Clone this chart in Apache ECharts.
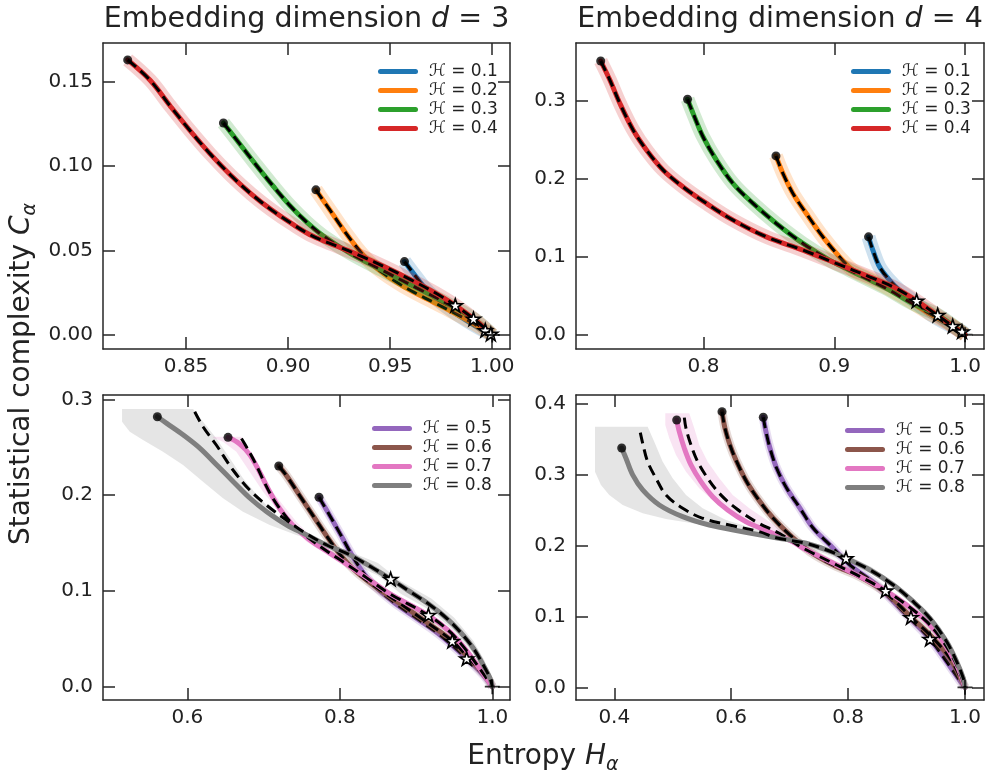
<!DOCTYPE html>
<html>
<head>
<meta charset="utf-8">
<script src="https://cdn.jsdelivr.net/npm/echarts@6/dist/echarts.min.js"></script>
<style>
  html, body { margin: 0; padding: 0; background: #fff; }
  #chart { width: 988px; height: 776px; }
</style>
</head>
<body>
<div id="chart"></div>
<script>
// ---- data ----
// top row: H = 0.1 .. 0.4, bottom row: H = 0.5 .. 0.8
var hLow = ['ℋ = 0.1', 'ℋ = 0.2', 'ℋ = 0.3', 'ℋ = 0.4'];
var hHigh = ['ℋ = 0.5', 'ℋ = 0.6', 'ℋ = 0.7', 'ℋ = 0.8'];

// d = 3, H 0.1-0.4
var d3h01 = [[0.9570,0.0435],[0.9614,0.0365],[0.9663,0.0289],[0.9712,0.0228],[0.9794,0.0150],[0.9876,0.0084],[0.9950,0.0031],[1.0,0.0]];
var d3h02 = [[0.9136,0.0860],[0.9206,0.0738],[0.9271,0.0624],[0.9337,0.0518],[0.9402,0.0430],[0.9467,0.0365],[0.9550,0.0299],[0.9631,0.0244],[0.9712,0.0194],[0.9800,0.0139],[0.9900,0.0074],[1.0,0.0]];
var d3h03 = [[0.8683,0.1256],[0.8765,0.1129],[0.8846,0.1003],[0.8928,0.0880],[0.9010,0.0765],[0.9092,0.0667],[0.9173,0.0586],[0.9304,0.0484],[0.9467,0.0380],[0.9631,0.0278],[0.9780,0.0186],[0.9908,0.0096],[1.0,0.0]];
var d3h04 = [[0.8214,0.1630],[0.8324,0.1509],[0.8422,0.1357],[0.8520,0.1210],[0.8618,0.1073],[0.8720,0.0945],[0.8820,0.0835],[0.8920,0.0740],[0.9020,0.0658],[0.9120,0.0586],[0.9240,0.0526],[0.9360,0.0466],[0.9480,0.0400],[0.9600,0.0328],[0.9720,0.0250],[0.9819,0.0176],[0.9920,0.0085],[1.0,0.0]];
var d3lowStars = [[0.9819,0.0176],[0.9908,0.0096],[0.9966,0.0028],[0.9993,0.0006]];

// d = 4, H 0.1-0.4
var d4h01 = [[0.9262,0.1256],[0.9295,0.1086],[0.9346,0.0872],[0.9422,0.0701],[0.9498,0.0573],[0.9600,0.0445],[0.9727,0.0274],[0.9855,0.0146],[0.9977,0.0040],[1.0,0.0]];
var d4h02 = [[0.8554,0.2295],[0.8608,0.2069],[0.8684,0.1813],[0.8786,0.1556],[0.8913,0.1256],[0.9040,0.1000],[0.9142,0.0829],[0.9295,0.0701],[0.9524,0.0487],[0.9700,0.0300],[0.9906,0.0112],[1.0,0.0]];
var d4h03 = [[0.7878,0.3022],[0.7921,0.2838],[0.7997,0.2538],[0.8099,0.2240],[0.8226,0.1941],[0.8379,0.1685],[0.8557,0.1428],[0.8760,0.1172],[0.8964,0.0958],[0.9117,0.0829],[0.9397,0.0595],[0.9600,0.0400],[0.9791,0.0253],[1.0,0.0]];
var d4h04 = [[0.7214,0.3513],[0.7285,0.3265],[0.7361,0.2967],[0.7463,0.2624],[0.7565,0.2368],[0.7692,0.2112],[0.7844,0.1897],[0.8023,0.1685],[0.8226,0.1471],[0.8481,0.1256],[0.8760,0.1086],[0.9015,0.0915],[0.9269,0.0744],[0.9473,0.0595],[0.9630,0.0436],[0.9804,0.0231],[1.0,0.0]];
var d4lowStars = [[0.9630,0.0436],[0.9791,0.0253],[0.9906,0.0112],[0.9977,0.0040]];

// d = 3, H 0.5-0.8
var d3h05 = [[0.7727,0.1977],[0.7871,0.1783],[0.8003,0.1598],[0.8134,0.1408],[0.8265,0.1238],[0.8440,0.1063],[0.8702,0.0885],[0.9009,0.0713],[0.9314,0.0539],[0.9664,0.0294],[0.9882,0.0122],[1.0,0.0]];
var d3h06 = [[0.7199,0.2304],[0.7304,0.2199],[0.7478,0.1990],[0.7653,0.1780],[0.7828,0.1572],[0.8003,0.1380],[0.8222,0.1195],[0.8484,0.1035],[0.8790,0.0868],[0.9140,0.0672],[0.9475,0.0477],[0.9708,0.0285],[0.9927,0.0100],[1.0,0.0]];
var d3h07 = [[0.6534,0.2603],[0.6687,0.2534],[0.6818,0.2423],[0.6949,0.2240],[0.7081,0.2035],[0.7212,0.1858],[0.7386,0.1684],[0.7605,0.1531],[0.7867,0.1395],[0.8046,0.1302],[0.8353,0.1136],[0.8659,0.0968],[0.9162,0.0745],[0.9445,0.0572],[0.9664,0.0375],[0.9882,0.0135],[1.0,0.0]];
var d3h08 = [[0.5607,0.2818],[0.5730,0.2749],[0.5948,0.2627],[0.6167,0.2488],[0.6386,0.2314],[0.6603,0.2140],[0.6822,0.1967],[0.7041,0.1827],[0.7304,0.1688],[0.7566,0.1584],[0.7828,0.1479],[0.8134,0.1375],[0.8440,0.1236],[0.8667,0.1124],[0.8921,0.0992],[0.9183,0.0853],[0.9402,0.0714],[0.9576,0.0574],[0.9751,0.0401],[0.9882,0.0226],[0.9970,0.0088],[1.0,0.0]];
// upper parts of the dashed (theory) curves where they leave the measured ones
var d3t07 = [[0.6710,0.2590],[0.6800,0.2470],[0.6900,0.2320],[0.7000,0.2150],[0.7120,0.1970],[0.7250,0.1820],[0.7400,0.1680],[0.7605,0.1545]];
var d3t08 = [[0.6097,0.2870],[0.6206,0.2714],[0.6380,0.2523],[0.6599,0.2262],[0.6818,0.2053],[0.7036,0.1897],[0.7298,0.1740],[0.7566,0.1595]];
var d3highStars = [[0.8667,0.1124],[0.9162,0.0747],[0.9475,0.0477],[0.9664,0.0294]];
var d3band07 = [[0.6337,0.2610],[0.6708,0.2610],[0.6818,0.2453],[0.6949,0.2244],[0.7081,0.2071],[0.7255,0.1897],[0.7430,0.1722],[0.7600,0.1590],[0.7867,0.1430],[0.8353,0.1170],[0.8659,0.1000],[0.9162,0.0776],[0.9445,0.0603],[0.9664,0.0405],[0.9882,0.0158],[1.0,0.0],
  [0.9882,0.0112],[0.9664,0.0345],[0.9445,0.0541],[0.9162,0.0714],[0.8659,0.0935],[0.8353,0.1102],[0.7867,0.1360],[0.7550,0.1520],[0.7386,0.1670],[0.7167,0.1862],[0.6993,0.2035],[0.6818,0.2244],[0.6643,0.2453],[0.6468,0.2557],[0.6337,0.2600]];
var d3band08 = [[0.5144,0.2899],[0.6075,0.2899],[0.6206,0.2766],[0.6380,0.2593],[0.6556,0.2384],[0.6730,0.2175],[0.6949,0.1967],[0.7212,0.1758],[0.7517,0.1584],[0.7867,0.1460],[0.8100,0.1420],[0.8500,0.1290],[0.8800,0.1100],[0.9200,0.0920],[0.9500,0.0720],[0.9750,0.0480],[0.9900,0.0270],[1.0,0.0],
  [0.9900,0.0150],[0.9750,0.0350],[0.9500,0.0580],[0.9200,0.0790],[0.8800,0.0970],[0.8500,0.1160],[0.8100,0.1310],[0.7780,0.1497],[0.7430,0.1584],[0.7081,0.1688],[0.6730,0.1827],[0.6468,0.1967],[0.6206,0.2140],[0.5944,0.2314],[0.5681,0.2453],[0.5419,0.2575],[0.5245,0.2662],[0.5144,0.2766]];

// d = 4, H 0.5-0.8
var d4h05 = [[0.6549,0.3814],[0.6595,0.3610],[0.6664,0.3376],[0.6778,0.3093],[0.6950,0.2811],[0.7178,0.2528],[0.7405,0.2246],[0.7691,0.2010],[0.8033,0.1727],[0.8489,0.1445],[0.8945,0.1068],[0.9401,0.0682],[0.9687,0.0362],[0.9890,0.0120],[1.0,0.0]];
var d4h06 = [[0.5843,0.3893],[0.5894,0.3658],[0.5979,0.3422],[0.6094,0.3186],[0.6265,0.2904],[0.6493,0.2621],[0.6720,0.2387],[0.7006,0.2151],[0.7348,0.1915],[0.7747,0.1727],[0.8203,0.1562],[0.8660,0.1328],[0.9076,0.0989],[0.9401,0.0739],[0.9743,0.0410],[1.0,0.0]];
var d4h07 = [[0.5068,0.3775],[0.5112,0.3610],[0.5198,0.3376],[0.5312,0.3140],[0.5483,0.2904],[0.5683,0.2692],[0.5940,0.2504],[0.6253,0.2339],[0.6652,0.2198],[0.7052,0.2056],[0.7234,0.1963],[0.7805,0.1727],[0.8260,0.1540],[0.8643,0.1365],[0.9003,0.1162],[0.9345,0.0927],[0.9629,0.0644],[0.9858,0.0315],[1.0,0.0]];
var d4h08 = [[0.4127,0.3380],[0.4200,0.3234],[0.4315,0.2999],[0.4486,0.2787],[0.4770,0.2575],[0.5170,0.2410],[0.5625,0.2292],[0.6197,0.2198],[0.6766,0.2113],[0.7280,0.2034],[0.7634,0.1939],[0.7964,0.1822],[0.8375,0.1657],[0.8774,0.1445],[0.9116,0.1209],[0.9401,0.0975],[0.9687,0.0644],[0.9858,0.0362],[0.9971,0.0127],[1.0,0.0]];
var d4t07 = [[0.5198,0.3808],[0.5227,0.3658],[0.5312,0.3422],[0.5427,0.3186],[0.5598,0.2952],[0.5796,0.2740],[0.6082,0.2528],[0.6424,0.2339],[0.6823,0.2175]];
var d4t08 = [[0.4445,0.3596],[0.4486,0.3446],[0.4571,0.3186],[0.4713,0.2952],[0.4885,0.2716],[0.5170,0.2528],[0.5512,0.2387],[0.5967,0.2292],[0.6481,0.2198]];
var d4highStars = [[0.7964,0.1822],[0.8643,0.1365],[0.9076,0.0989],[0.9401,0.0682]];
var d4band07 = [[0.4873,0.3870],[0.5283,0.3870],[0.5369,0.3658],[0.5454,0.3422],[0.5598,0.3186],[0.5796,0.2952],[0.6026,0.2716],[0.6310,0.2528],[0.6652,0.2339],[0.7052,0.2100],[0.7805,0.1760],[0.8643,0.1400],[0.9345,0.0960],[0.9629,0.0675],[0.9858,0.0345],[1.0,0.0],
  [0.9858,0.0285],[0.9629,0.0613],[0.9345,0.0895],[0.8643,0.1330],[0.7805,0.1695],[0.7052,0.2015],[0.6481,0.2268],[0.6082,0.2410],[0.5740,0.2599],[0.5454,0.2811],[0.5227,0.3045],[0.5056,0.3281],[0.4941,0.3517],[0.4873,0.3705]];
var d4band08 = [[0.3670,0.3680],[0.4571,0.3680],[0.4684,0.3469],[0.4828,0.3186],[0.4999,0.2952],[0.5227,0.2716],[0.5512,0.2528],[0.5911,0.2363],[0.6368,0.2246],[0.6881,0.2151],[0.7200,0.2080],[0.7600,0.1990],[0.8000,0.1860],[0.8400,0.1700],[0.8800,0.1480],[0.9100,0.1270],[0.9400,0.1010],[0.9650,0.0720],[0.9850,0.0400],[1.0,0.0],
  [0.9850,0.0320],[0.9650,0.0620],[0.9400,0.0910],[0.9100,0.1170],[0.8800,0.1390],[0.8400,0.1600],[0.8000,0.1760],[0.7600,0.1890],[0.7200,0.1990],[0.6481,0.2175],[0.5911,0.2246],[0.5341,0.2316],[0.4885,0.2377],[0.4486,0.2458],[0.4144,0.2575],[0.3914,0.2716],[0.3772,0.2857],[0.3670,0.3045]];

// axis ranges and ticks
var xRange = [[0.8093, 1.0087], [0.7025, 1.0145], [0.4894, 1.0232], [0.3345, 1.0325]];
var yRange = [[-0.0083, 0.1730], [-0.0183, 0.3744], [-0.0139, 0.3045], [-0.0179, 0.4128]];
var xTicks = [[0.85, 0.90, 0.95, 1.00], [0.8, 0.9, 1.0], [0.6, 0.8, 1.0], [0.4, 0.6, 0.8, 1.0]];
var yTicks = [[0.00, 0.05, 0.10, 0.15], [0.0, 0.1, 0.2, 0.3], [0.0, 0.1, 0.2, 0.3], [0.0, 0.1, 0.2, 0.3, 0.4]];
var decimals = [2, 1, 1, 1];

var lowColors = ['#1f77b4', '#ff7f0e', '#2ca02c', '#d62728'];
var highColors = ['#9467bd', '#8c564b', '#e377c2', '#7f7f7f'];

var FONT = 'DejaVu Sans';
var INK = '#262626';
var STAR = 'path://M50,0 L61.8,35.4 L99,35.4 L69,57.3 L80.4,92.7 L50,70.8 L19.6,92.7 L31,57.3 L1,35.4 L38.2,35.4 Z';
var PLUS = 'path://M0,50 L100,50 M50,0 L50,100';

var grids = [
    { left: 103, top: 43, width: 407, height: 306 },
    { left: 576, top: 43, width: 408, height: 306 },
    { left: 103, top: 395, width: 407, height: 305 },
    { left: 576, top: 395, width: 408, height: 305 }
];

var xAxes = [], yAxes = [];
grids.forEach(function (g, i) {
    ['bottom', 'top'].forEach(function (pos) {
        xAxes.push({
            type: 'value', gridIndex: i, position: pos,
            min: xRange[i][0], max: xRange[i][1],
            splitLine: { show: false },
            axisLine: { show: true, onZero: false, lineStyle: { color: INK, width: 1.5 } },
            axisTick: { show: true, inside: true, length: 12, customValues: xTicks[i], lineStyle: { color: INK, width: 1.5 } },
            axisLabel: {
                show: pos == 'bottom', customValues: xTicks[i], margin: 8,
                fontFamily: FONT, fontSize: 20, color: '#222',
                formatter: function (v) { return v.toFixed(decimals[i]); }
            }
        });
    });
    ['left', 'right'].forEach(function (pos) {
        yAxes.push({
            type: 'value', gridIndex: i, position: pos,
            min: yRange[i][0], max: yRange[i][1],
            splitLine: { show: false },
            axisLine: { show: true, onZero: false, lineStyle: { color: INK, width: 1.5 } },
            axisTick: { show: true, inside: true, length: 12, customValues: yTicks[i], lineStyle: { color: INK, width: 1.5 } },
            axisLabel: {
                show: pos == 'left', customValues: yTicks[i], margin: 10,
                fontFamily: FONT, fontSize: 20, color: '#222',
                formatter: function (v) { return v.toFixed(decimals[i]); }
            }
        });
    });
});

var series = [];

var lineBase = function (gi, name, data) {
    return {
        type: 'line', name: name, data: data,
        xAxisIndex: gi * 2, yAxisIndex: gi * 2,
        showSymbol: false, symbol: 'none', smooth: 0.35,
        silent: true
    };
};
// light thick band drawn as a wide translucent line
var addBandLine = function (gi, data, color, width) {
    var s = lineBase(gi, 'band', data);
    s.lineStyle = { color: color, width: width, opacity: 0.22, cap: 'butt' };
    series.push(s);
};
var addPolyBand = function (gi, pts, color) {
    series.push({
        type: 'custom', name: 'band', xAxisIndex: gi * 2, yAxisIndex: gi * 2,
        data: [pts[0]], silent: true,
        renderItem: function (params, api) {
            var p = pts.map(function (v) { return api.coord(v); });
            return { type: 'polygon', shape: { points: p }, style: { fill: color, opacity: 0.2 } };
        }
    });
};
var addSolid = function (gi, name, data, color) {
    var s = lineBase(gi, name, data);
    s.lineStyle = { color: color, width: 5, cap: 'round' };
    s.itemStyle = { color: color };
    series.push(s);
};
var addDashed = function (gi, data) {
    var s = lineBase(gi, 'theory', data);
    s.lineStyle = { color: '#000', width: 3, type: [11, 6] };
    series.push(s);
};
var addMarkers = function (gi, curves, stars) {
    series.push({
        type: 'scatter', name: 'start', xAxisIndex: gi * 2, yAxisIndex: gi * 2, z: 10, silent: true,
        symbol: 'circle', symbolSize: 9, itemStyle: { color: '#000' },
        data: curves.map(function (c) { return c[0]; })
    });
    series.push({
        type: 'scatter', name: 'star', xAxisIndex: gi * 2, yAxisIndex: gi * 2, z: 11, silent: true,
        symbol: STAR, symbolSize: 14, symbolKeepAspect: true,
        itemStyle: { color: '#fff', borderColor: '#000', borderWidth: 1.6, opacity: 1 },
        data: stars
    });
    series.push({
        type: 'scatter', name: 'end', xAxisIndex: gi * 2, yAxisIndex: gi * 2, z: 12, silent: true,
        symbol: PLUS, symbolSize: 15,
        itemStyle: { color: 'none', borderColor: '#000', borderWidth: 1.8 },
        data: [[1.0, 0.0]]
    });
};
// tail of a measured curve from a given x on, used to finish the theory curves
var tailFrom = function (data, x0) {
    return data.filter(function (p) { return p[0] >= x0; });
};

// top row
[[d3h01, d3h02, d3h03, d3h04], [d4h01, d4h02, d4h03, d4h04]].forEach(function (curves, gi) {
    curves.forEach(function (c, k) {
        addBandLine(gi, c, lowColors[k], 14);
        addSolid(gi, hLow[k], c, lowColors[k]);
        addDashed(gi, c);
    });
    addMarkers(gi, curves, gi == 0 ? d3lowStars : d4lowStars);
});

// bottom row
addPolyBand(2, d3band08, highColors[3]);
addPolyBand(2, d3band07, highColors[2]);
addPolyBand(3, d4band08, highColors[3]);
addPolyBand(3, d4band07, highColors[2]);
var highSets = [
    { gi: 2, curves: [d3h05, d3h06, d3h07, d3h08], theory: [null, null, d3t07.concat(tailFrom(d3h07, 0.78)), d3t08.concat(tailFrom(d3h08, 0.78))], stars: d3highStars },
    { gi: 3, curves: [d4h05, d4h06, d4h07, d4h08], theory: [null, null, d4t07.concat(tailFrom(d4h07, 0.70)), d4t08.concat(tailFrom(d4h08, 0.67))], stars: d4highStars }
];
highSets.forEach(function (set) {
    set.curves.forEach(function (c, k) {
        if (k < 2) addBandLine(set.gi, c, highColors[k], 9);
        addSolid(set.gi, hHigh[k], c, highColors[k]);
        addDashed(set.gi, set.theory[k] || c);
    });
    addMarkers(set.gi, set.curves, set.stars);
});

var legendAt = function (left, top, names) {
    return {
        orient: 'vertical', left: left, top: top, selectedMode: false,
        itemWidth: 40, itemHeight: 5, itemGap: 2,
        icon: 'path://M2.5,0 H37.5 A2.5,2.5 0 0 1 37.5,5 H2.5 A2.5,2.5 0 0 1 2.5,0 Z',
        textStyle: { fontFamily: FONT, fontSize: 17, color: '#222', lineHeight: 17, padding: [0, 0, 0, 6] },
        data: names
    };
};

var chart = echarts.init(document.getElementById('chart'), null, { renderer: 'canvas' });
chart.setOption({
    animation: false,
    backgroundColor: '#fff',
    grid: grids,
    xAxis: xAxes,
    yAxis: yAxes,
    legend: [
        legendAt(373, 58, hLow),
        legendAt(846, 58, hLow),
        legendAt(367, 415, hHigh),
        legendAt(840, 417, hHigh)
    ],
    graphic: [
        {
            type: 'text', x: 306.5, y: 20, silent: true,
            style: {
                text: 'Embedding dimension {i|d} = 3', fontFamily: FONT, fontSize: 28.5, fill: '#222',
                align: 'center', verticalAlign: 'middle',
                rich: { i: { fontFamily: FONT, fontSize: 28.5, fontStyle: 'italic', fill: '#222' } }
            }
        },
        {
            type: 'text', x: 780, y: 20, silent: true,
            style: {
                text: 'Embedding dimension {i|d} = 4', fontFamily: FONT, fontSize: 28.5, fill: '#222',
                align: 'center', verticalAlign: 'middle',
                rich: { i: { fontFamily: FONT, fontSize: 28.5, fontStyle: 'italic', fill: '#222' } }
            }
        },
        {
            type: 'text', x: 22, y: 374, rotation: Math.PI / 2, silent: true,
            style: {
                text: 'Statistical complexity {i|C}{s|α}', fontFamily: FONT, fontSize: 28, fill: '#222',
                align: 'center', verticalAlign: 'middle',
                rich: {
                    i: { fontFamily: FONT, fontSize: 28, fontStyle: 'italic', fill: '#222', lineHeight: 36 },
                    s: { fontFamily: FONT, fontSize: 19, fontStyle: 'italic', fill: '#222', verticalAlign: 'bottom', lineHeight: 36 }
                }
            }
        },
        {
            type: 'text', x: 543, y: 757, silent: true,
            style: {
                text: 'Entropy {i|H}{s|α}', fontFamily: FONT, fontSize: 28, fill: '#222',
                align: 'center', verticalAlign: 'middle',
                rich: {
                    i: { fontFamily: FONT, fontSize: 28, fontStyle: 'italic', fill: '#222', lineHeight: 36 },
                    s: { fontFamily: FONT, fontSize: 19, fontStyle: 'italic', fill: '#222', verticalAlign: 'bottom', lineHeight: 36 }
                }
            }
        }
    ],
    series: series
});
</script>
</body>
</html>
